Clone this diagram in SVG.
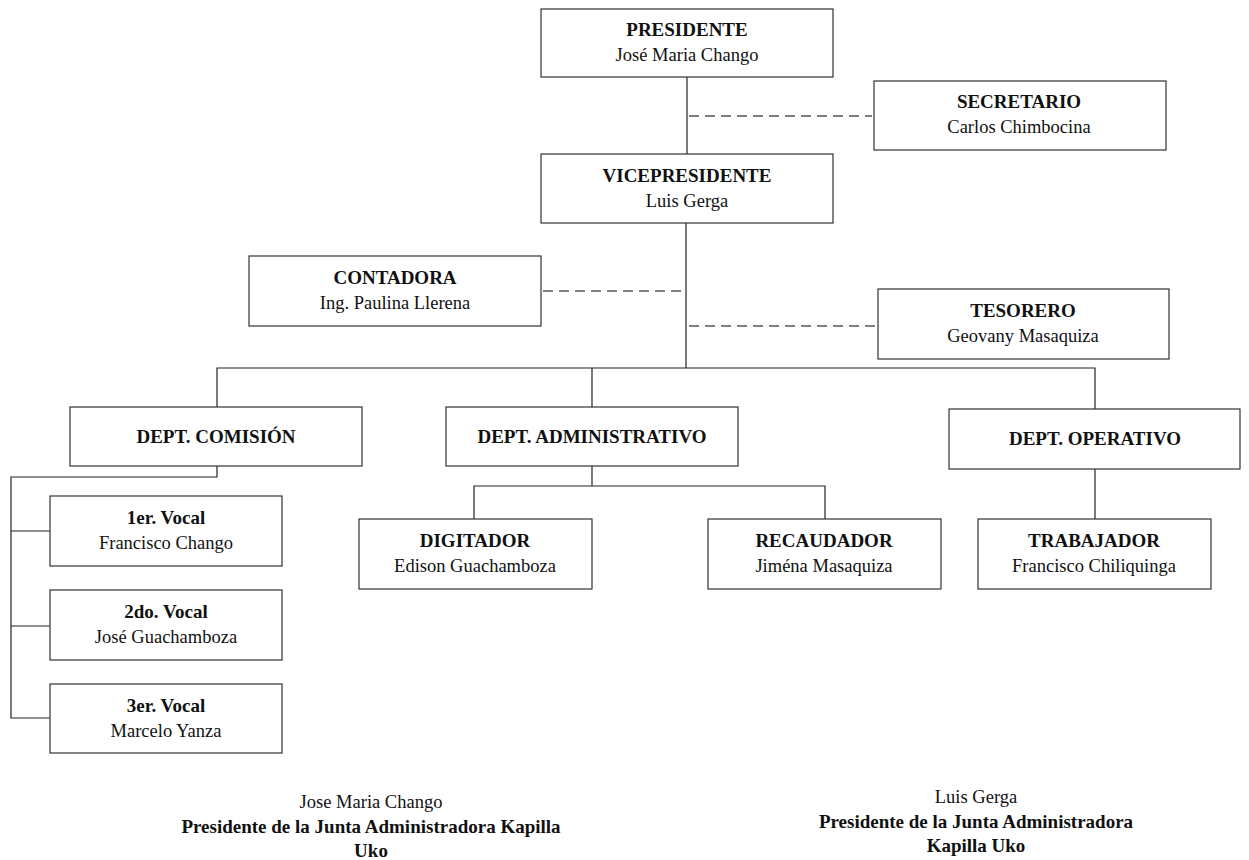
<svg xmlns="http://www.w3.org/2000/svg" width="1249" height="860" viewBox="0 0 1249 860">
<style>
.box{fill:#fff;stroke:#333;stroke-width:1.2}
.t{font-family:"Liberation Serif","Times New Roman",serif;font-size:19px;font-weight:bold;fill:#111;text-anchor:middle}
.n{font-family:"Liberation Serif","Times New Roman",serif;font-size:18.5px;fill:#111;text-anchor:middle}
.ln{fill:none;stroke:#222;stroke-width:1.2}
.dash{fill:none;stroke:#555;stroke-width:1.5;stroke-dasharray:10 6}
</style>
<rect width="1249" height="860" fill="#fff"/>
<g id="connectors">
<path class="ln" d="M687 77V154"/>
<path class="dash" d="M689 116H872"/>
<path class="ln" d="M686 223V368"/>
<path class="dash" d="M543 291H682"/>
<path class="dash" d="M689 326H876"/>
<path class="ln" d="M217 407V368H1095V409M592 368V407"/>
<path class="ln" d="M217 466V477H11V718H50M11 531H50M11 626H50"/>
<path class="ln" d="M592 466V486H474V519M592 486H825V519"/>
<path class="ln" d="M1095 469V519"/>
</g>
<g id="presidente"><rect class="box" x="541" y="9" width="292" height="68"/><text class="t" x="687" y="36">PRESIDENTE</text><text class="n" x="687" y="61">José Maria Chango</text></g>
<g id="secretario"><rect class="box" x="874" y="81" width="292" height="69"/><text class="t" x="1019" y="108">SECRETARIO</text><text class="n" x="1019" y="133">Carlos Chimbocina</text></g>
<g id="vicepresidente"><rect class="box" x="541" y="154" width="292" height="69"/><text class="t" x="687" y="182">VICEPRESIDENTE</text><text class="n" x="687" y="207">Luis Gerga</text></g>
<g id="contadora"><rect class="box" x="249" y="256" width="292" height="70"/><text class="t" x="395" y="284">CONTADORA</text><text class="n" x="395" y="309">Ing. Paulina Llerena</text></g>
<g id="tesorero"><rect class="box" x="878" y="289" width="291" height="70"/><text class="t" x="1023" y="317">TESORERO</text><text class="n" x="1023" y="342">Geovany Masaquiza</text></g>
<g id="dept-comision"><rect class="box" x="70" y="407" width="292" height="59"/><text class="t" x="216" y="443">DEPT. COMISIÓN</text></g>
<g id="dept-administrativo"><rect class="box" x="446" y="407" width="292" height="59"/><text class="t" x="592" y="443">DEPT. ADMINISTRATIVO</text></g>
<g id="dept-operativo"><rect class="box" x="949" y="409" width="291" height="60"/><text class="t" x="1095" y="445">DEPT. OPERATIVO</text></g>
<g id="vocal1"><rect class="box" x="50" y="496" width="232" height="70"/><text class="t" x="166" y="524">1er. Vocal</text><text class="n" x="166" y="549">Francisco Chango</text></g>
<g id="vocal2"><rect class="box" x="50" y="590" width="232" height="70"/><text class="t" x="166" y="618">2do. Vocal</text><text class="n" x="166" y="643">José Guachamboza</text></g>
<g id="vocal3"><rect class="box" x="50" y="684" width="232" height="69"/><text class="t" x="166" y="712">3er. Vocal</text><text class="n" x="166" y="737">Marcelo Yanza</text></g>
<g id="digitador"><rect class="box" x="359" y="519" width="233" height="70"/><text class="t" x="475" y="547">DIGITADOR</text><text class="n" x="475" y="572">Edison Guachamboza</text></g>
<g id="recaudador"><rect class="box" x="708" y="519" width="233" height="70"/><text class="t" x="824" y="547">RECAUDADOR</text><text class="n" x="824" y="572">Jiména Masaquiza</text></g>
<g id="trabajador"><rect class="box" x="978" y="519" width="233" height="70"/><text class="t" x="1094" y="547">TRABAJADOR</text><text class="n" x="1094" y="572">Francisco Chiliquinga</text></g>
<g id="firma1"><text class="n" x="371" y="808">Jose Maria Chango</text><text class="t" x="371" y="833">Presidente de la Junta Administradora Kapilla</text><text class="t" x="371" y="857">Uko</text></g>
<g id="firma2"><text class="n" x="976" y="803">Luis Gerga</text><text class="t" x="976" y="828">Presidente de la Junta Administradora</text><text class="t" x="976" y="852">Kapilla Uko</text></g>
</svg>
